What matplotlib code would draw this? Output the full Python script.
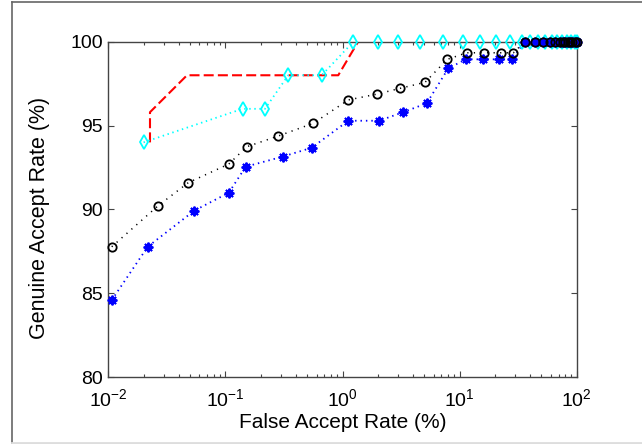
import matplotlib
matplotlib.use("Agg")
import matplotlib.pyplot as plt
from matplotlib.lines import Line2D
from matplotlib.ticker import LogLocator, FixedLocator, NullFormatter

plt.rcParams['font.family'] = ['Liberation Sans', 'DejaVu Sans']
plt.rcParams['mathtext.fontset'] = 'custom'
plt.rcParams['mathtext.rm'] = 'Liberation Sans'
plt.rcParams['mathtext.default'] = 'regular'

# ---- data ----
red_far = [0.0227, 0.0227, 0.047, 0.92, 1.36]
red_gar = [94.0, 95.8, 98.0, 98.0, 100.0]

cyan_far = [0.02, 0.14, 0.218, 0.344, 0.664, 1.24, 2.02, 2.99, 4.59, 7.17,
            10.6, 14.9, 20.3, 26.9, 33.9, 40, 47, 54, 61, 68, 75, 82, 89, 96, 100]
cyan_gar = [94.0, 96.0, 96.0, 98.0, 98.0, 100, 100, 100, 100, 100,
            100, 100, 100, 100, 100, 100, 100, 100, 100, 100, 100, 100, 100, 100, 100]

black_far = [0.0107, 0.0267, 0.0482, 0.107, 0.152, 0.283, 0.564, 1.12, 1.98, 3.10,
             5.07, 7.85, 11.5, 16.1, 22.4, 28.8, 36, 44, 52, 59, 65, 72, 76, 80, 84,
             88, 92, 96, 100]
black_gar = [87.78, 90.23, 91.6, 92.71, 93.74, 94.38, 95.14, 96.53, 96.88, 97.22,
             97.58, 98.95, 99.34, 99.34, 99.34, 99.34, 100, 100, 100, 100, 100, 100, 100,
             100, 100, 100, 100, 100, 100]

blue_far = [0.0107, 0.0217, 0.0542, 0.107, 0.149, 0.308, 0.546, 1.12, 2.06, 3.27,
            5.24, 8.0, 11.3, 15.9, 21.7, 27.9, 36, 44, 52, 59, 65, 72, 76, 80, 84,
            88, 92, 96, 100]
blue_gar = [84.6, 87.78, 89.93, 91.0, 92.55, 93.15, 93.68, 95.29, 95.29, 95.79,
            96.33, 98.41, 98.95, 98.95, 98.95, 98.95, 100, 100, 100, 100, 100, 100, 100,
            100, 100, 100, 100, 100, 100]

yticks = [80, 85, 90, 95, 100]
xlabel = 'False Accept Rate (%)'
ylabel = 'Genuine Accept Rate (%)'

# ---- figure ----
W, H = 642, 444
fig = plt.figure(figsize=(W / 100, H / 100), dpi=100)
fig.patch.set_facecolor('white')
ax = fig.add_axes([108.3 / W, 1 - 377.3 / H, (576.7 - 108.3) / W, (377.3 - 41.7) / H])

# lines (clipped, under the axes box)
ax.plot(red_far, red_gar, color='red', lw=1.5, linestyle=(0, (4.8, 2.0)), zorder=1.0)
ax.plot(cyan_far, cyan_gar, color='cyan', lw=1.3, linestyle=(0, (0.8, 2.0)), zorder=1.1)
ax.plot(blue_far, blue_gar, color='blue', lw=1.3, linestyle=(0, (0.8, 2.2)), zorder=1.2)
ax.plot(black_far, black_gar, color='black', lw=1.1, linestyle=(0, (0.8, 3.5)), zorder=1.3)

# markers (not clipped, drawn over the axes box)
ax.plot(cyan_far, cyan_gar, linestyle='none', marker='d', ms=7.5, mfc='none',
        mec='cyan', mew=1.3, zorder=4, clip_on=False)
ax.plot(blue_far, blue_gar, linestyle='none', marker=(8, 2, 0), ms=7, mec='blue',
        mew=1.4, zorder=5, clip_on=False)
ax.plot(black_far, black_gar, linestyle='none', marker='o', ms=6, mfc='none',
        mec='black', mew=1.3, zorder=6, clip_on=False)

ax.set_xscale('log')
ax.set_xlim(1e-2, 1e2)
ax.set_ylim(80, 100)
ax.yaxis.set_major_locator(FixedLocator(yticks))
ax.xaxis.set_major_locator(LogLocator(base=10, numticks=10))
ax.xaxis.set_minor_locator(LogLocator(base=10, subs=range(2, 10), numticks=10))
ax.xaxis.set_minor_formatter(NullFormatter())

spine_c = '#444444'
for s in ax.spines.values():
    s.set_color(spine_c)
    s.set_linewidth(1.0)
    s.set_zorder(3)
ax.tick_params(which='both', direction='in', top=True, right=True, color=spine_c,
               labelsize=14, labelcolor='black')
ax.tick_params(which='major', length=4, width=0.8)
ax.tick_params(which='minor', length=2.5, width=0.8)
ax.tick_params(axis='x', pad=8)
ax.tick_params(axis='y', pad=4)

ax.set_xlabel(xlabel, fontsize=15, labelpad=2)
ax.set_ylabel(ylabel, fontsize=15.5, labelpad=12)
ax.yaxis.set_label_coords(-0.125, 0.475)

# outer frame of the exported figure
fig.add_artist(Line2D([12 / W, 12 / W], [0, 1 - 2 / H], transform=fig.transFigure,
                      color='#666666', lw=1.2))
fig.add_artist(Line2D([12 / W, 1], [1 - 2 / H, 1 - 2 / H], transform=fig.transFigure,
                      color='#666666', lw=1.2))
fig.add_artist(Line2D([12 / W, 1], [1.5 / H, 1.5 / H], transform=fig.transFigure,
                      color='#dddddd', lw=2))

fig.savefig('out.png', dpi=100)
